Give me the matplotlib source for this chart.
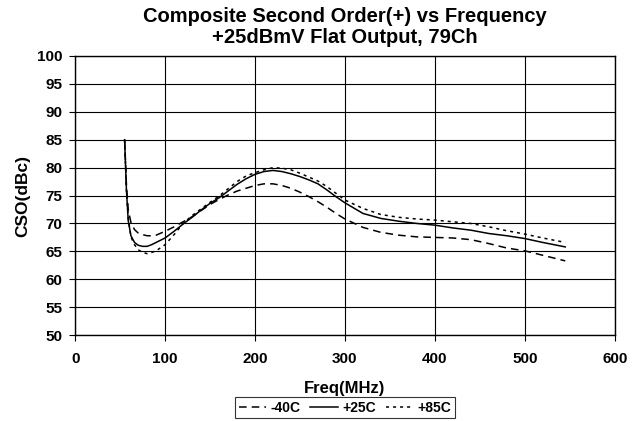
import matplotlib
matplotlib.use("Agg")
import matplotlib.pyplot as plt

# CSO vs frequency
freq = [55, 57, 59, 62, 66, 70, 75, 80, 85, 90, 100, 110, 120, 130, 140, 150,
        160, 170, 180, 190, 200, 210, 220, 230, 240, 250, 260, 270, 280, 290,
        300, 320, 340, 360, 380, 400, 420, 440, 460, 480, 500, 520, 545]

cso_m40 = [85, 77, 72.5, 70.2, 68.9, 68.3, 68.0, 67.8, 67.8, 67.9, 68.6, 69.4,
           70.3, 71.2, 72.3, 73.4, 74.3, 75.1, 75.8, 76.3, 76.8, 77.1, 77.1,
           76.8, 76.3, 75.6, 74.8, 73.9, 72.9, 71.8, 70.8, 69.3, 68.4, 67.9,
           67.6, 67.5, 67.4, 67.1, 66.4, 65.6, 65.1, 64.3, 63.3]

cso_p25 = [85, 76, 70.5, 67.8, 66.6, 66.1, 65.9, 65.9, 66.2, 66.6, 67.4, 68.6,
           69.9, 71.1, 72.4, 73.6, 74.6, 75.8, 77.0, 78.0, 78.8, 79.3, 79.5,
           79.3, 78.9, 78.4, 77.8, 77.1, 76.0, 74.8, 73.7, 71.8, 70.9, 70.4,
           70.0, 69.7, 69.2, 68.8, 68.2, 67.8, 67.3, 66.6, 65.8]

cso_p85 = [85, 76, 71, 67.6, 66.2, 65.3, 64.8, 64.6, 64.8, 65.1, 66.2, 68.0,
           70.0, 71.4, 72.6, 73.8, 74.9, 76.2, 77.5, 78.5, 79.1, 79.6, 80.0,
           79.9, 79.6, 79.0, 78.3, 77.6, 76.6, 75.4, 74.2, 72.7, 71.6, 71.1,
           70.8, 70.6, 70.3, 70.0, 69.4, 68.7, 68.1, 67.4, 66.6]

plt.rcParams['font.family'] = ['Liberation Sans', 'DejaVu Sans']
plt.rcParams['font.weight'] = 'bold'

fig = plt.figure(figsize=(6.37, 4.21), dpi=100)
ax = fig.add_axes([0.118, 0.204, 0.847, 0.663])

ax.plot(freq, cso_m40, color='black', linewidth=1.1, dashes=(5, 3.3), label='-40C')
ax.plot(freq, cso_p25, color='black', linewidth=1.1, label='+25C')
ax.plot(freq, cso_p85, color='black', linewidth=1.1, dashes=(2, 2.6), label='+85C')

ax.set_xlim(0, 600)
ax.set_ylim(50, 100)
ax.set_xticks(range(0, 601, 100))
ax.set_yticks(range(50, 101, 5))
ax.grid(True, color='black', linewidth=0.8)
ax.tick_params(direction='out', length=4, labelsize=11, width=0.8)
ax.tick_params(axis='x', pad=8)
ax.tick_params(axis='y', pad=5)
for s in ax.spines.values():
    s.set_linewidth(1.0)

ax.set_title('Composite Second Order(+) vs Frequency\n+25dBmV Flat Output, 79Ch',
             fontsize=14.5, fontweight='bold', pad=9, linespacing=1.15)
ax.set_xlabel('Freq(MHz)', fontsize=12, fontweight='bold', labelpad=11)
ax.set_ylabel('CSO(dBc)', fontsize=12.5, fontweight='bold', labelpad=5)

leg = ax.legend(loc='upper center', bbox_to_anchor=(0.5, -0.222), ncol=3,
                frameon=True, fancybox=False, edgecolor='black', fontsize=10,
                handlelength=2.0, handletextpad=0.3, columnspacing=0.7,
                borderpad=0.25, borderaxespad=0)
leg.get_frame().set_linewidth(0.8)

fig.savefig('out.png', dpi=100)
